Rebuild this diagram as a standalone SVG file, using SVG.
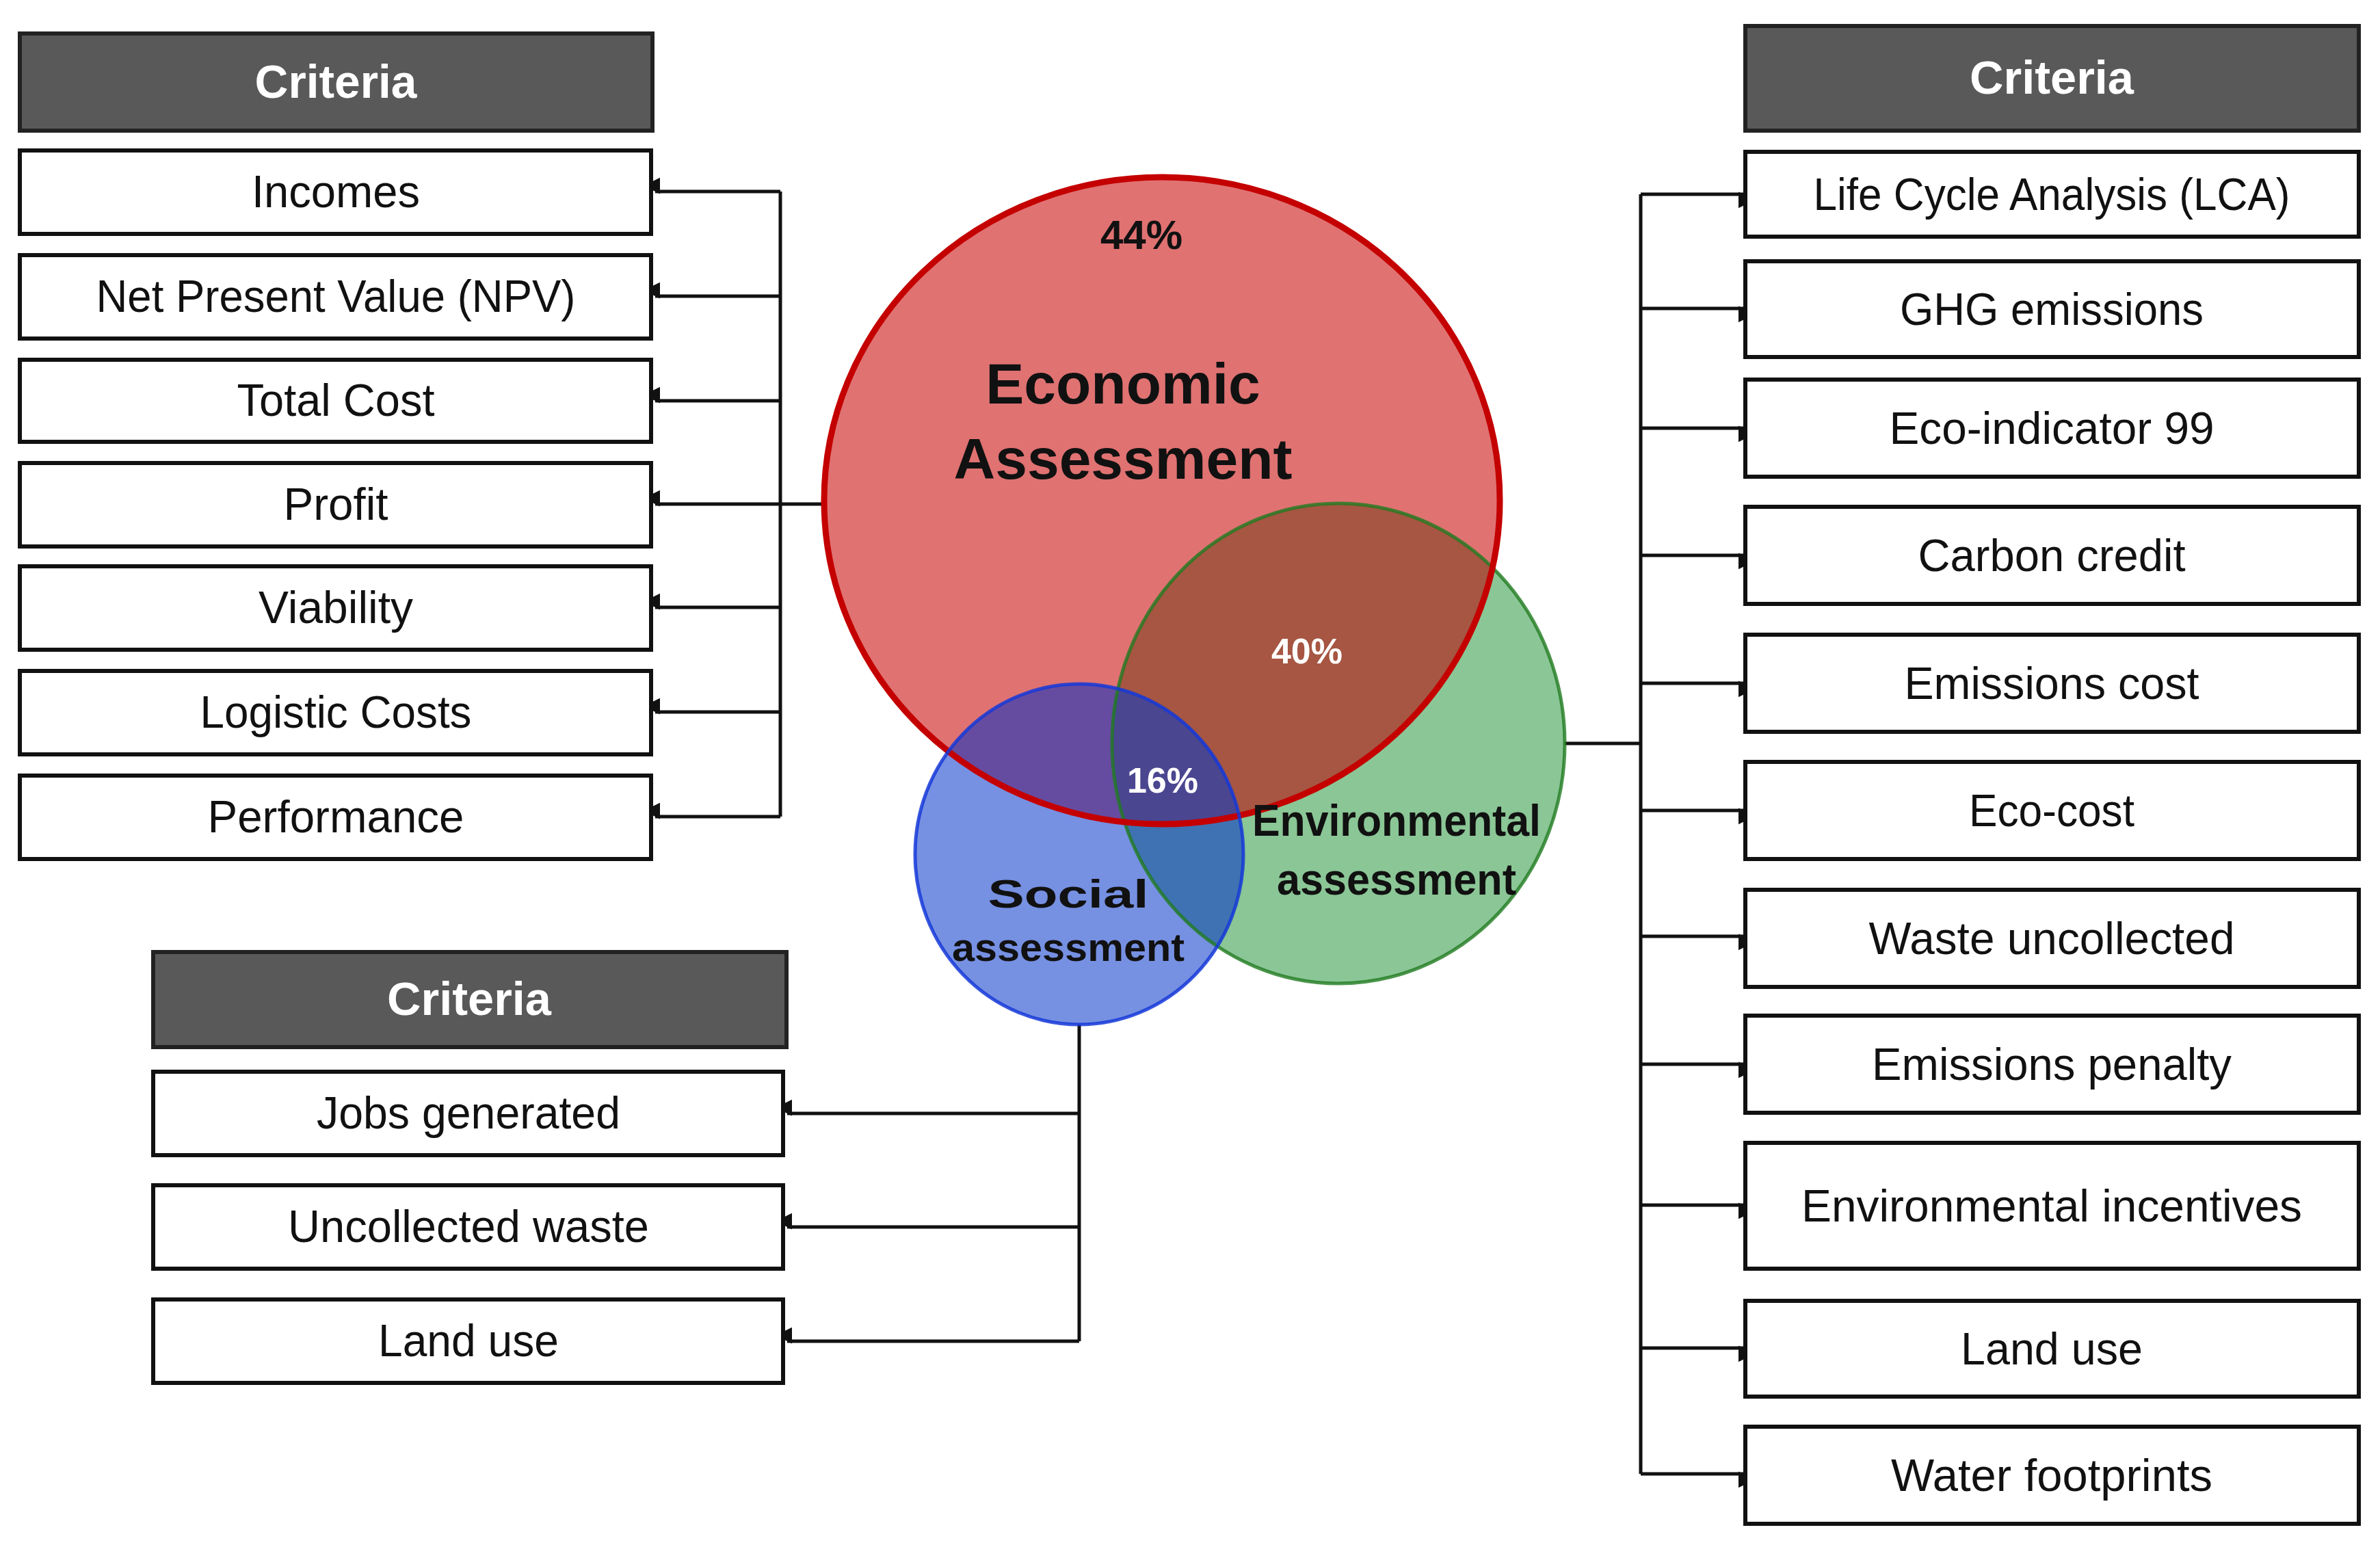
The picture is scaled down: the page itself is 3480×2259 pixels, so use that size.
<svg xmlns="http://www.w3.org/2000/svg" width="3480" height="2259" viewBox="0 0 3480 2259">
<style>
.hdr{fill:#595959;stroke:#222;stroke-width:6}
.box{fill:#fff;stroke:#111;stroke-width:6}
.ht{font-family:"Liberation Sans",Arial,sans-serif;font-weight:bold;font-size:68px;fill:#fff;text-anchor:middle}
.bt{font-family:"Liberation Sans",Arial,sans-serif;font-size:66px;fill:#111;text-anchor:middle}
.ln{fill:none;stroke:#111;stroke-width:5}
.vb{font-family:"Liberation Sans",Arial,sans-serif;font-weight:bold;text-anchor:middle}
</style>
<defs>
<marker id="ah" viewBox="0 0 10 10" refX="10" refY="5" markerWidth="7" markerHeight="7" orient="auto" markerUnits="userSpaceOnUse" style="overflow:visible">
<path d="M0,0 L10,5 L0,10 z" fill="#111" transform="scale(3.4)" />
</marker>
<clipPath id="cE"><ellipse cx="1699" cy="732" rx="494" ry="473"/></clipPath>
<clipPath id="cG"><ellipse cx="1957" cy="1087" rx="331" ry="351"/></clipPath>
<clipPath id="cS"><ellipse cx="1578" cy="1249" rx="240" ry="249"/></clipPath>
</defs>
<rect width="3480" height="2259" fill="#fff"/>

<g id="connectors">
<path class="ln" d="M1205,737 H1141 M1141,280 V1194"/>
<path class="ln" marker-end="url(#ah)" d="M1141,280 H958"/>
<path class="ln" marker-end="url(#ah)" d="M1141,433 H958"/>
<path class="ln" marker-end="url(#ah)" d="M1141,586 H958"/>
<path class="ln" marker-end="url(#ah)" d="M1141,737 H958"/>
<path class="ln" marker-end="url(#ah)" d="M1141,888 H958"/>
<path class="ln" marker-end="url(#ah)" d="M1141,1041 H958"/>
<path class="ln" marker-end="url(#ah)" d="M1141,1194 H958"/>
<path class="ln" d="M2288,1087 H2399 M2399,284 V2155"/>
<path class="ln" marker-end="url(#ah)" d="M2399,284 H2549"/>
<path class="ln" marker-end="url(#ah)" d="M2399,451 H2549"/>
<path class="ln" marker-end="url(#ah)" d="M2399,626 H2549"/>
<path class="ln" marker-end="url(#ah)" d="M2399,812 H2549"/>
<path class="ln" marker-end="url(#ah)" d="M2399,999 H2549"/>
<path class="ln" marker-end="url(#ah)" d="M2399,1185 H2549"/>
<path class="ln" marker-end="url(#ah)" d="M2399,1369 H2549"/>
<path class="ln" marker-end="url(#ah)" d="M2399,1556 H2549"/>
<path class="ln" marker-end="url(#ah)" d="M2399,1762 H2549"/>
<path class="ln" marker-end="url(#ah)" d="M2399,1971 H2549"/>
<path class="ln" marker-end="url(#ah)" d="M2399,2155 H2549"/>
<path class="ln" d="M1578,1498 V1961"/>
<path class="ln" marker-end="url(#ah)" d="M1578,1628 H1151"/>
<path class="ln" marker-end="url(#ah)" d="M1578,1794 H1151"/>
<path class="ln" marker-end="url(#ah)" d="M1578,1961 H1151"/>
</g>

<g id="venn">
<ellipse cx="1699" cy="732" rx="494" ry="473" fill="#e07272"/>
<ellipse cx="1957" cy="1087" rx="331" ry="351" fill="#8bc696"/>
<ellipse cx="1578" cy="1249" rx="240" ry="249" fill="#7690e2"/>
<g clip-path="url(#cE)"><ellipse cx="1957" cy="1087" rx="331" ry="351" fill="#a65642"/></g>
<g clip-path="url(#cE)"><ellipse cx="1578" cy="1249" rx="240" ry="249" fill="#664ca0"/></g>
<g clip-path="url(#cG)"><ellipse cx="1578" cy="1249" rx="240" ry="249" fill="#3f72b2"/></g>
<g clip-path="url(#cE)"><g clip-path="url(#cG)"><ellipse cx="1578" cy="1249" rx="240" ry="249" fill="#4a4690"/></g></g>
<ellipse cx="1957" cy="1087" rx="331" ry="351" fill="none" stroke="#1f7a1f" stroke-width="5" stroke-opacity="0.8"/>
<ellipse cx="1699" cy="732" rx="494" ry="473" fill="none" stroke="#c40000" stroke-width="9"/>
<ellipse cx="1578" cy="1249" rx="240" ry="249" fill="none" stroke="#1538d8" stroke-width="5" stroke-opacity="0.85"/>
<text class="vb" x="1669" y="364" font-size="60" fill="#111">44%</text>
<text class="vb" x="1642" y="590" font-size="84" fill="#111">Economic</text>
<text class="vb" x="1642" y="700" font-size="84" fill="#111">Assessment</text>
<text class="vb" x="1911" y="970" font-size="52" fill="#fff">40%</text>
<text class="vb" x="1700" y="1159" font-size="52" fill="#fff">16%</text>
<text class="vb" x="2042" y="1222" font-size="64" fill="#111" textLength="422" lengthAdjust="spacingAndGlyphs">Environmental</text>
<text class="vb" x="2042" y="1308" font-size="64" fill="#111" textLength="350" lengthAdjust="spacingAndGlyphs">assessment</text>
<text class="vb" x="1562" y="1327" font-size="58" fill="#111" textLength="235" lengthAdjust="spacingAndGlyphs">Social</text>
<text class="vb" x="1562" y="1405" font-size="58" fill="#111" textLength="340" lengthAdjust="spacingAndGlyphs">assessment</text>
</g>

<g id="hdr-left"><rect class="hdr" x="29" y="49" width="925" height="142"/><text class="ht" x="491" y="143" textLength="237" lengthAdjust="spacingAndGlyphs">Criteria</text></g>
<g id="incomes"><rect class="box" x="29" y="220" width="923" height="122"/><text class="bt" x="491" y="303" textLength="246" lengthAdjust="spacingAndGlyphs">Incomes</text></g>
<g id="npv"><rect class="box" x="29" y="373" width="923" height="122"/><text class="bt" x="491" y="456" textLength="701" lengthAdjust="spacingAndGlyphs">Net Present Value (NPV)</text></g>
<g id="totalcost"><rect class="box" x="29" y="526" width="923" height="120"/><text class="bt" x="491" y="608" textLength="289" lengthAdjust="spacingAndGlyphs">Total Cost</text></g>
<g id="profit"><rect class="box" x="29" y="677" width="923" height="122"/><text class="bt" x="491" y="760" textLength="153" lengthAdjust="spacingAndGlyphs">Profit</text></g>
<g id="viability"><rect class="box" x="29" y="828" width="923" height="122"/><text class="bt" x="491" y="911" textLength="226" lengthAdjust="spacingAndGlyphs">Viability</text></g>
<g id="logistic"><rect class="box" x="29" y="981" width="923" height="122"/><text class="bt" x="491" y="1064" textLength="397" lengthAdjust="spacingAndGlyphs">Logistic Costs</text></g>
<g id="performance"><rect class="box" x="29" y="1134" width="923" height="122"/><text class="bt" x="491" y="1217" textLength="375" lengthAdjust="spacingAndGlyphs">Performance</text></g>

<g id="hdr-right"><rect class="hdr" x="2552" y="38" width="897" height="153"/><text class="ht" x="3000" y="137" textLength="240" lengthAdjust="spacingAndGlyphs">Criteria</text></g>
<g id="lca"><rect class="box" x="2552" y="222" width="897" height="124"/><text class="bt" x="3000" y="307" textLength="697" lengthAdjust="spacingAndGlyphs">Life Cycle Analysis (LCA)</text></g>
<g id="ghg"><rect class="box" x="2552" y="382" width="897" height="140"/><text class="bt" x="3000" y="475" textLength="444" lengthAdjust="spacingAndGlyphs">GHG emissions</text></g>
<g id="ecoind"><rect class="box" x="2552" y="555" width="897" height="142"/><text class="bt" x="3000" y="649" textLength="475" lengthAdjust="spacingAndGlyphs">Eco-indicator 99</text></g>
<g id="carbon"><rect class="box" x="2552" y="741" width="897" height="142"/><text class="bt" x="3000" y="835" textLength="391" lengthAdjust="spacingAndGlyphs">Carbon credit</text></g>
<g id="emcost"><rect class="box" x="2552" y="928" width="897" height="142"/><text class="bt" x="3000" y="1022" textLength="431" lengthAdjust="spacingAndGlyphs">Emissions cost</text></g>
<g id="ecocost"><rect class="box" x="2552" y="1114" width="897" height="142"/><text class="bt" x="3000" y="1208" textLength="242" lengthAdjust="spacingAndGlyphs">Eco-cost</text></g>
<g id="waste"><rect class="box" x="2552" y="1301" width="897" height="142"/><text class="bt" x="3000" y="1395" textLength="535" lengthAdjust="spacingAndGlyphs">Waste uncollected</text></g>
<g id="penalty"><rect class="box" x="2552" y="1485" width="897" height="142"/><text class="bt" x="3000" y="1579" textLength="526" lengthAdjust="spacingAndGlyphs">Emissions penalty</text></g>
<g id="incentives"><rect class="box" x="2552" y="1671" width="897" height="184"/><text class="bt" x="3000" y="1786" textLength="732" lengthAdjust="spacingAndGlyphs">Environmental incentives</text></g>
<g id="landuse-r"><rect class="box" x="2552" y="1902" width="897" height="140"/><text class="bt" x="3000" y="1995" textLength="266" lengthAdjust="spacingAndGlyphs">Land use</text></g>
<g id="water"><rect class="box" x="2552" y="2086" width="897" height="142"/><text class="bt" x="3000" y="2180" textLength="470" lengthAdjust="spacingAndGlyphs">Water footprints</text></g>

<g id="hdr-bottom"><rect class="hdr" x="224" y="1392" width="926" height="139"/><text class="ht" x="686" y="1484" textLength="240" lengthAdjust="spacingAndGlyphs">Criteria</text></g>
<g id="jobs"><rect class="box" x="224" y="1567" width="921" height="122"/><text class="bt" x="685" y="1650" textLength="444" lengthAdjust="spacingAndGlyphs">Jobs generated</text></g>
<g id="uncollected"><rect class="box" x="224" y="1733" width="921" height="122"/><text class="bt" x="685" y="1816" textLength="528" lengthAdjust="spacingAndGlyphs">Uncollected waste</text></g>
<g id="landuse-b"><rect class="box" x="224" y="1900" width="921" height="122"/><text class="bt" x="685" y="1983" textLength="264" lengthAdjust="spacingAndGlyphs">Land use</text></g>
</svg>
